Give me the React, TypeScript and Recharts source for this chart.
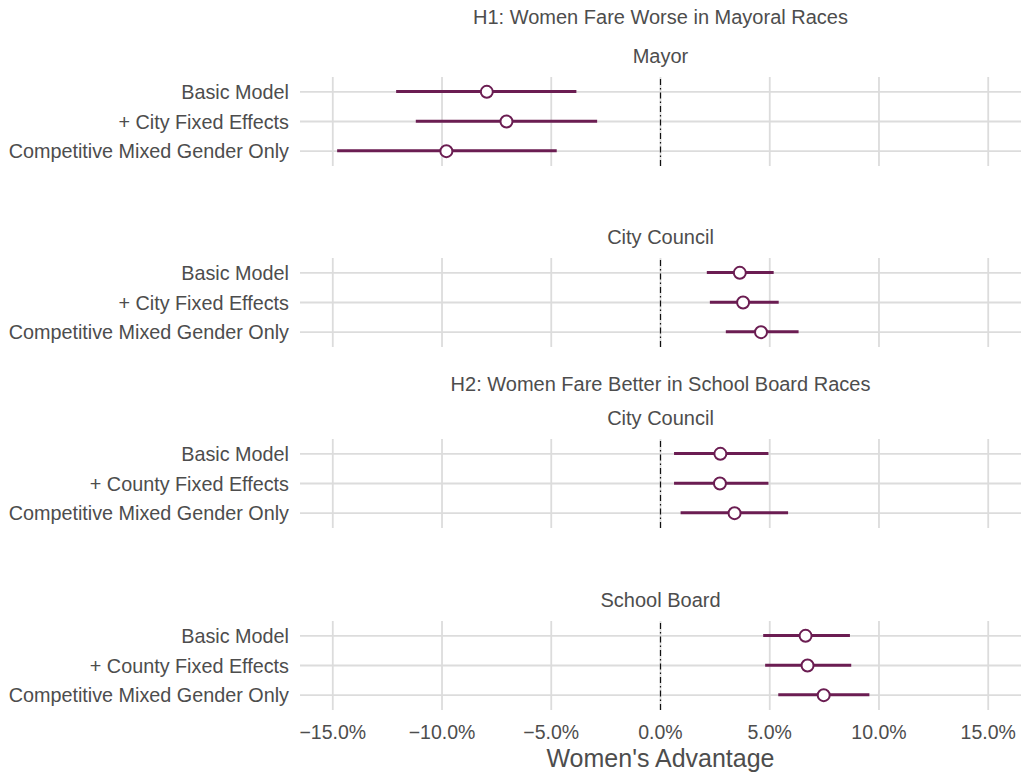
import React from "react";
import {
  ComposedChart,
  Bar,
  Line,
  XAxis,
  YAxis,
  ReferenceLine,
} from "recharts";

// row labels per panel
const h1Models = ["Basic Model", "+ City Fixed Effects", "Competitive Mixed Gender Only"];
const h2Models = ["Basic Model", "+ County Fixed Effects", "Competitive Mixed Gender Only"];

// estimates and 95% intervals, in percent
const mayorEst = [-7.95, -7.05, -9.8];
const mayorLo = [-12.1, -11.2, -14.8];
const mayorHi = [-3.85, -2.9, -4.75];

const council1Est = [3.63, 3.78, 4.6];
const council1Lo = [2.12, 2.26, 2.99];
const council1Hi = [5.18, 5.41, 6.32];

const council2Est = [2.74, 2.72, 3.39];
const council2Lo = [0.62, 0.62, 0.92];
const council2Hi = [4.94, 4.94, 5.84];

const schoolEst = [6.64, 6.73, 7.47];
const schoolLo = [4.7, 4.79, 5.39];
const schoolHi = [8.67, 8.73, 9.56];

const xTicks = [-15, -10, -5, 0, 5, 10, 15];

const COLOR = "#6b1d52";
const TEXT = "#4d4d4d";
const GRID = "#dcdcdc";
const FONT = "'Liberation Sans', Arial, Helvetica, sans-serif";

const build = (labels: string[], est: number[], lo: number[], hi: number[]) =>
  labels.map((model, i) => ({ model, est: est[i], range: [lo[i], hi[i]] }));

const panels = [
  { title: "Mayor", top: 77, data: build(h1Models, mayorEst, mayorLo, mayorHi) },
  { title: "City Council", top: 258, data: build(h1Models, council1Est, council1Lo, council1Hi) },
  { title: "City Council", top: 439, data: build(h2Models, council2Est, council2Lo, council2Hi) },
  { title: "School Board", top: 621, data: build(h2Models, schoolEst, schoolLo, schoolHi) },
];

const fmt = (v: number) => (v < 0 ? "\u2212" : "") + Math.abs(v).toFixed(1) + "%";

const PLOT_H = 89;
const MT = 4;

// one panel = a grid layer underneath and a data layer on top, same axes
const Panel = ({ data, top, last, grid }: { data: any[]; top: number; last: boolean; grid: boolean }) => (
  <div style={{ position: "absolute", left: 0, top: top - MT }}>
    <ComposedChart
      width={1024}
      height={MT + PLOT_H + (last ? 40 : 4)}
      data={data}
      layout="vertical"
      margin={{ top: MT, right: 3, bottom: last ? 0 : 4, left: 0 }}
    >
      <XAxis
        type="number"
        domain={[-16.5, 16.5]}
        ticks={xTicks}
        tickFormatter={fmt}
        hide={!last}
        height={40}
        axisLine={false}
        tickLine={false}
        tickSize={0}
        tickMargin={15}
        tick={grid ? false : { fill: TEXT, fontSize: 19.5, fontFamily: FONT }}
        allowDataOverflow
      />
      <YAxis
        type="category"
        dataKey="model"
        scale="band"
        width={300}
        axisLine={false}
        tickLine={false}
        tickSize={0}
        tickMargin={11}
        tick={grid ? false : { fill: TEXT, fontSize: 19.8, fontFamily: FONT }}
        interval={0}
      />
      {grid &&
        data.map((d) => (
          <ReferenceLine key={d.model} y={d.model} stroke={GRID} strokeWidth={1.8} />
        ))}
      {grid &&
        xTicks.map((t) => <ReferenceLine key={t} x={t} stroke={GRID} strokeWidth={1.8} />)}
      <Bar dataKey="range" fill={grid ? "none" : COLOR} barSize={3} isAnimationActive={false} />
      {!grid && (
        <ReferenceLine x={0} stroke="#111" strokeWidth={1.2} strokeDasharray="6 3 1.5 3" />
      )}
      {!grid && (
        <Line
          dataKey="est"
          stroke="none"
          isAnimationActive={false}
          activeDot={false}
          dot={{ r: 6, fill: "#fff", stroke: COLOR, strokeWidth: 2 }}
        />
      )}
    </ComposedChart>
  </div>
);

const Title = ({ text, y, size }: { text: string; y: number; size: number }) => (
  <div
    style={{
      position: "absolute",
      left: 300,
      width: 721,
      top: y - size * 0.6,
      textAlign: "center",
      fontFamily: FONT,
      fontSize: size,
      color: TEXT,
      lineHeight: `${size * 1.2}px`,
      whiteSpace: "nowrap",
    }}
  >
    {text}
  </div>
);

export default function App() {
  return (
    <div style={{ position: "absolute", left: 0, top: 0, width: 1024, height: 773, background: "#fff" }}>
      <Title text="H1: Women Fare Worse in Mayoral Races" y={17} size={20} />
      <Title text="H2: Women Fare Better in School Board Races" y={384} size={20} />
      {panels.map((p, i) => (
        <React.Fragment key={i}>
          <Title text={p.title} y={p.top - 21} size={20} />
          <Panel data={p.data} top={p.top} last={i === panels.length - 1} grid />
          <Panel data={p.data} top={p.top} last={i === panels.length - 1} grid={false} />
        </React.Fragment>
      ))}
      <Title text="Women's Advantage" y={758} size={25} />
    </div>
  );
}
